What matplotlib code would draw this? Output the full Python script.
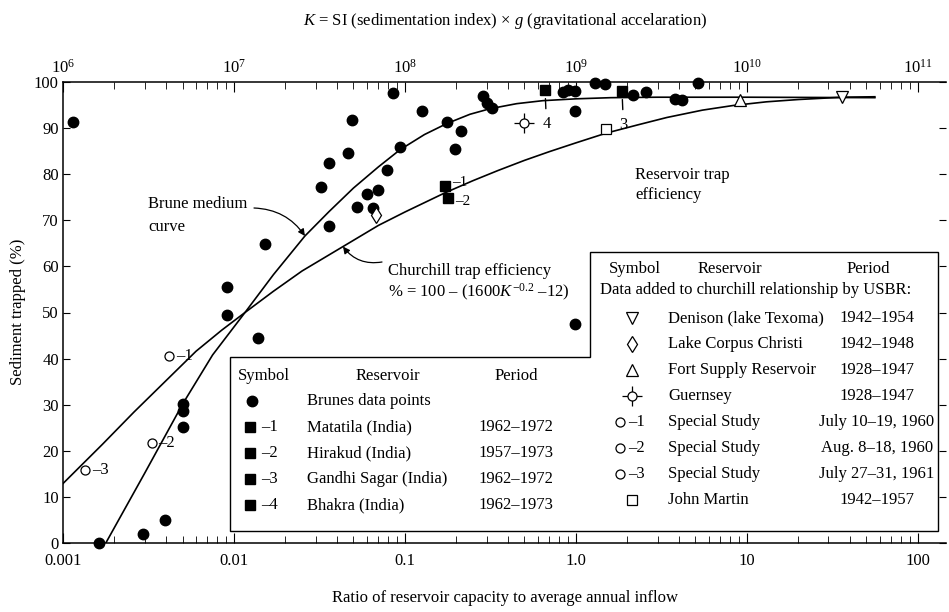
import numpy as np
import matplotlib
matplotlib.use("Agg")
import matplotlib.pyplot as plt
from matplotlib.patches import Polygon
from matplotlib.ticker import LogLocator, NullFormatter

plt.rcParams['font.family'] = 'Liberation Serif'
plt.rcParams['mathtext.fontset'] = 'custom'
plt.rcParams['mathtext.rm'] = 'Liberation Serif'
plt.rcParams['mathtext.it'] = 'Liberation Serif:italic'
plt.rcParams['font.size'] = 12

# ---- data (ratio = capacity / annual inflow, % trapped)
brune_pts_r = [0.00114, 0.00163, 0.00294, 0.00395, 0.00503, 0.00503, 0.00500, 0.0091, 0.0091,
               0.0138, 0.0152, 0.0323, 0.0360, 0.0360, 0.0464, 0.0490, 0.0524, 0.0600,
               0.0695, 0.0650, 0.0785, 0.0935, 0.085, 0.1256, 0.176, 0.212, 0.195,
               0.286, 0.302, 0.323, 0.84, 0.90, 0.986, 0.986, 0.986, 1.29, 1.48,
               2.15, 2.56, 3.8, 4.17, 5.16]
brune_pts_y = [91.4, 0.0, 2.0, 5.0, 30.1, 28.6, 25.1, 55.6, 49.5,
               44.5, 64.9, 77.3, 82.5, 68.7, 84.7, 91.7, 72.8, 75.8,
               76.5, 72.6, 80.9, 85.9, 97.6, 93.8, 91.4, 89.4, 85.5,
               96.9, 95.4, 94.3, 97.8, 98.3, 98.0, 93.7, 47.5, 99.7, 99.5,
               97.2, 97.9, 96.4, 96.0, 99.7]

india_r = [0.171, 0.178, 1.86, 0.66]      # Matatila, Hirakud, Gandhi Sagar, Bhakra
india_y = [77.5, 74.8, 98.0, 98.2]
india_lbl = ["–1", "–2", "3", "4"]

denison_r, denison_y = [36.0], [96.7]
corpus_r, corpus_y = [0.068], [71.2]
fortsupply_r, fortsupply_y = [9.1], [96.1]
guernsey_r, guernsey_y = [0.50], [91.1]
johnmartin_r, johnmartin_y = [1.50], [89.9]
special_r = [0.00417, 0.0033, 0.00135]
special_y = [40.6, 21.7, 15.9]
special_lbl = ["–1", "–2", "–3"]

brune_curve_r = [0.00178, 0.003, 0.005, 0.0075, 0.0116, 0.017, 0.026, 0.036, 0.05, 0.07, 0.0935,
                 0.13, 0.176, 0.24, 0.314, 0.45, 0.64, 1.0, 1.6, 3.0, 10.0, 56.0]
brune_curve_y = [0.0, 15.1, 30.1, 40.8, 50.0, 58.2, 66.6, 71.9, 77.0, 81.6, 85.3,
                 88.6, 91.0, 93.0, 94.2, 95.3, 95.95, 96.35, 96.6, 96.7, 96.7, 96.6]

church_curve_r = [0.001, 0.0017, 0.0026, 0.004, 0.006, 0.0085, 0.0116, 0.017, 0.025, 0.0434, 0.07,
                  0.1, 0.17, 0.25, 0.35, 0.5, 0.7, 1.0, 1.5, 2.3, 3.4, 5.5, 8.3, 13.0, 20.0, 36.0, 56.0]
church_curve_y = [12.9, 21.4, 28.4, 35.2, 41.6, 46.2, 50.0, 54.6, 59.0, 64.3, 68.9,
                  71.8, 75.9, 78.6, 80.8, 83.0, 84.9, 86.8, 88.9, 90.7, 92.3, 93.9, 94.9, 95.7, 96.2, 96.7, 96.8]

x_ticks = [0.001, 0.01, 0.1, 1.0, 10, 100]
x_tick_labels = ["0.001", "0.01", "0.1", "1.0", "10", "100"]
k_ticks = [1e6, 1e7, 1e8, 1e9, 1e10, 1e11]
k_tick_labels = [r"$10^{6}$", r"$10^{7}$", r"$10^{8}$", r"$10^{9}$", r"$10^{10}$", r"$10^{11}$"]
y_ticks = list(range(0, 101, 10))

legend1_rows = [("Brunes data points", ""),
                ("Matatila (India)", "1962–1972"),
                ("Hirakud (India)", "1957–1973"),
                ("Gandhi Sagar (India)", "1962–1972"),
                ("Bhakra (India)", "1962–1973")]
legend2_rows = [("Denison (lake Texoma)", "1942–1954"),
                ("Lake Corpus Christi", "1942–1948"),
                ("Fort Supply Reservoir", "1928–1947"),
                ("Guernsey", "1928–1947"),
                ("Special Study", "July 10–19, 1960"),
                ("Special Study", "Aug. 8–18, 1960"),
                ("Special Study", "July 27–31, 1961"),
                ("John Martin", "1942–1957")]

W, H = 949, 612
def fx(x):
    return x / W
def fy(y):
    return 1 - y / H

fig = plt.figure(figsize=(W / 100, H / 100), dpi=100)
ax = fig.add_axes([fx(63), fy(543), fx(946) - fx(63), fy(82) - fy(543)])
ax.set_xscale('log')
ax.set_xlim(0.001, 146)
ax.set_ylim(0, 100)

# curves
ax.plot(brune_curve_r, brune_curve_y, color='black', lw=1.2, zorder=2)
ax.plot(church_curve_r, church_curve_y, color='black', lw=1.2, zorder=2)

# points
ax.plot(brune_pts_r, brune_pts_y, 'o', color='black', ms=7.5, zorder=3, clip_on=False)
ax.plot(india_r, india_y, 's', color='black', ms=7.5, zorder=3, clip_on=False)
ax.plot(denison_r, denison_y, 'v', mfc='white', mec='black', mew=0.9, ms=9, zorder=3)
ax.plot(corpus_r, corpus_y, 'd', mfc='white', mec='black', mew=0.9, ms=8, zorder=3)
ax.plot(fortsupply_r, fortsupply_y, '^', mfc='white', mec='black', mew=0.9, ms=9, zorder=3)
ax.plot(guernsey_r, guernsey_y, '+', color='black', mew=0.9, ms=15, zorder=3)
ax.plot(guernsey_r, guernsey_y, 'o', mfc='white', mec='black', mew=0.9, ms=6.5, zorder=4)
ax.plot(johnmartin_r, johnmartin_y, 's', mfc='white', mec='black', mew=0.9, ms=7, zorder=3)
ax.plot(special_r, special_y, 'o', mfc='white', mec='black', mew=0.9, ms=6.5, zorder=3)

for r, y, t in zip(special_r, special_y, special_lbl):
    ax.annotate(t, (r, y), xytext=(5, 0), textcoords='offset points', ha='left', va='center', fontsize=12)
for r, y, t, dy in zip(india_r[:2], india_y[:2], india_lbl[:2], [2.5, -2.5]):
    ax.annotate(t, (r, y), xytext=(5, dy), textcoords='offset points', ha='left', va='center', fontsize=11)
for r, y, t in zip(india_r[2:], india_y[2:], india_lbl[2:]):
    ax.annotate(t, (r, y), xytext=(1, -24), textcoords='offset points', ha='center', va='center', fontsize=12,
                arrowprops=dict(arrowstyle='-', color='black', lw=1.0, shrinkA=3, shrinkB=6))

# ticks
ax.set_xticks(x_ticks, x_tick_labels)
ax.xaxis.set_minor_locator(LogLocator(base=10, subs=np.arange(2, 10)))
ax.xaxis.set_minor_formatter(NullFormatter())
ax.set_yticks(y_ticks)
ax.tick_params(which='both', direction='in', top=False, right=True, labelsize=12)
ax.tick_params(axis='x', which='major', length=7, pad=7)
ax.tick_params(axis='x', which='minor', length=5)
ax.tick_params(axis='y', length=5, pad=3)
ax.spines['right'].set_visible(False)
ax.spines['top'].set_visible(False)
for s in ('left', 'bottom'):
    ax.spines[s].set_linewidth(1.1)

secax = ax.secondary_xaxis('top', functions=(lambda r: r * 1e9, lambda k: k / 1e9))
secax.set_xticks(k_ticks, k_tick_labels)
secax.xaxis.set_minor_locator(LogLocator(base=10, subs=np.arange(2, 10)))
secax.xaxis.set_minor_formatter(NullFormatter())
secax.tick_params(which='both', direction='in', labelsize=12)
secax.tick_params(which='major', length=7, pad=4)
secax.tick_params(which='minor', length=5)
secax.spines['top'].set_linewidth(1.1)

# titles
fig.text(fx(505), fy(21), r"$K$ = SI (sedimentation index) × $g$ (gravitational accelaration)",
         ha='center', va='center', fontsize=12)
fig.text(fx(505), fy(598), "Ratio of reservoir capacity to average annual inflow",
         ha='center', va='center', fontsize=12)
fig.text(fx(18), fy(312), "Sediment trapped (%)", rotation=90, ha='center', va='center', fontsize=12)

# curve labels
fig.text(fx(148), fy(204), "Brune medium", ha='left', va='center', fontsize=12)
fig.text(fx(148), fy(227), "curve", ha='left', va='center', fontsize=12)
ax.annotate("", xy=(brune_curve_r[6], brune_curve_y[6]), xytext=(fx(254), fy(208)),
            textcoords='figure fraction',
            arrowprops=dict(arrowstyle='-|>', color='black', lw=0.9, mutation_scale=10,
                            connectionstyle='arc3,rad=-0.25', shrinkA=0, shrinkB=0))
fig.text(fx(388), fy(271), "Churchill trap efficiency", ha='left', va='center', fontsize=12)
fig.text(fx(388), fy(292), r"% = 100 – (1600$K^{-0.2}$ –12)", ha='left', va='center', fontsize=12)
ax.annotate("", xy=(church_curve_r[9], church_curve_y[9]), xytext=(fx(382), fy(262)),
            textcoords='figure fraction',
            arrowprops=dict(arrowstyle='-|>', color='black', lw=0.9, mutation_scale=10,
                            connectionstyle='arc3,rad=-0.3', shrinkA=0, shrinkB=0))
fig.text(fx(635), fy(175), "Reservoir trap", ha='left', va='center', fontsize=12)
fig.text(fx(635), fy(195), "efficiency", ha='left', va='center', fontsize=12)

# legend boxes (L-shaped outline)
box = [(230, 357), (590, 357), (590, 252), (938, 252), (938, 531), (230, 531)]
ax.add_patch(Polygon([(fx(x), fy(y)) for x, y in box], closed=True, transform=fig.transFigure,
                     facecolor='white', edgecolor='black', lw=1.0, zorder=6, clip_on=False))

def ftext(x, y, s, ha='left'):
    ax.text(fx(x), fy(y), s, transform=fig.transFigure, ha=ha, va='center', fontsize=12, zorder=7)

def fmark(x, y, **kw):
    ax.plot([fx(x)], [fy(y)], transform=fig.transFigure, clip_on=False, zorder=7, **kw)

ftext(238, 376, "Symbol")
ftext(388, 376, "Reservoir", ha='center')
ftext(516, 376, "Period", ha='center')
rows1_y = [401, 427, 453, 479, 505]
for i, ((name, period), y) in enumerate(zip(legend1_rows, rows1_y)):
    if i == 0:
        fmark(252, y, marker='o', color='black', ms=7.5, ls='none')
    else:
        fmark(250, y, marker='s', color='black', ms=7.5, ls='none')
        ftext(261, y, "–%d" % i)
    ftext(307, y, name)
    if period:
        ftext(516, y, period, ha='center')

ftext(635, 269, "Symbol", ha='center')
ftext(730, 269, "Reservoir", ha='center')
ftext(868, 269, "Period", ha='center')
ftext(600, 290, "Data added to churchill relationship by USBR:")
rows2_y = [318, 344, 370, 396, 422, 448, 474, 500]
open_kw = dict(mfc='white', mec='black', mew=0.9, ls='none')
fmark(632, rows2_y[0], marker='v', ms=9, **open_kw)
fmark(632, rows2_y[1], marker='d', ms=8, **open_kw)
fmark(632, rows2_y[2], marker='^', ms=9, **open_kw)
fmark(632, rows2_y[3], marker='+', ms=15, color='black', mew=0.9, ls='none')
fmark(632, rows2_y[3], marker='o', ms=6.5, **open_kw)
for j in range(3):
    fmark(620, rows2_y[4 + j], marker='o', ms=6.5, **open_kw)
    ftext(628, rows2_y[4 + j], "–%d" % (j + 1))
fmark(632, rows2_y[7], marker='s', ms=7, **open_kw)
for (name, period), y in zip(legend2_rows, rows2_y):
    ftext(668, y, name)
    ftext(877, y, period, ha='center')

fig.savefig("out.png", dpi=100)
